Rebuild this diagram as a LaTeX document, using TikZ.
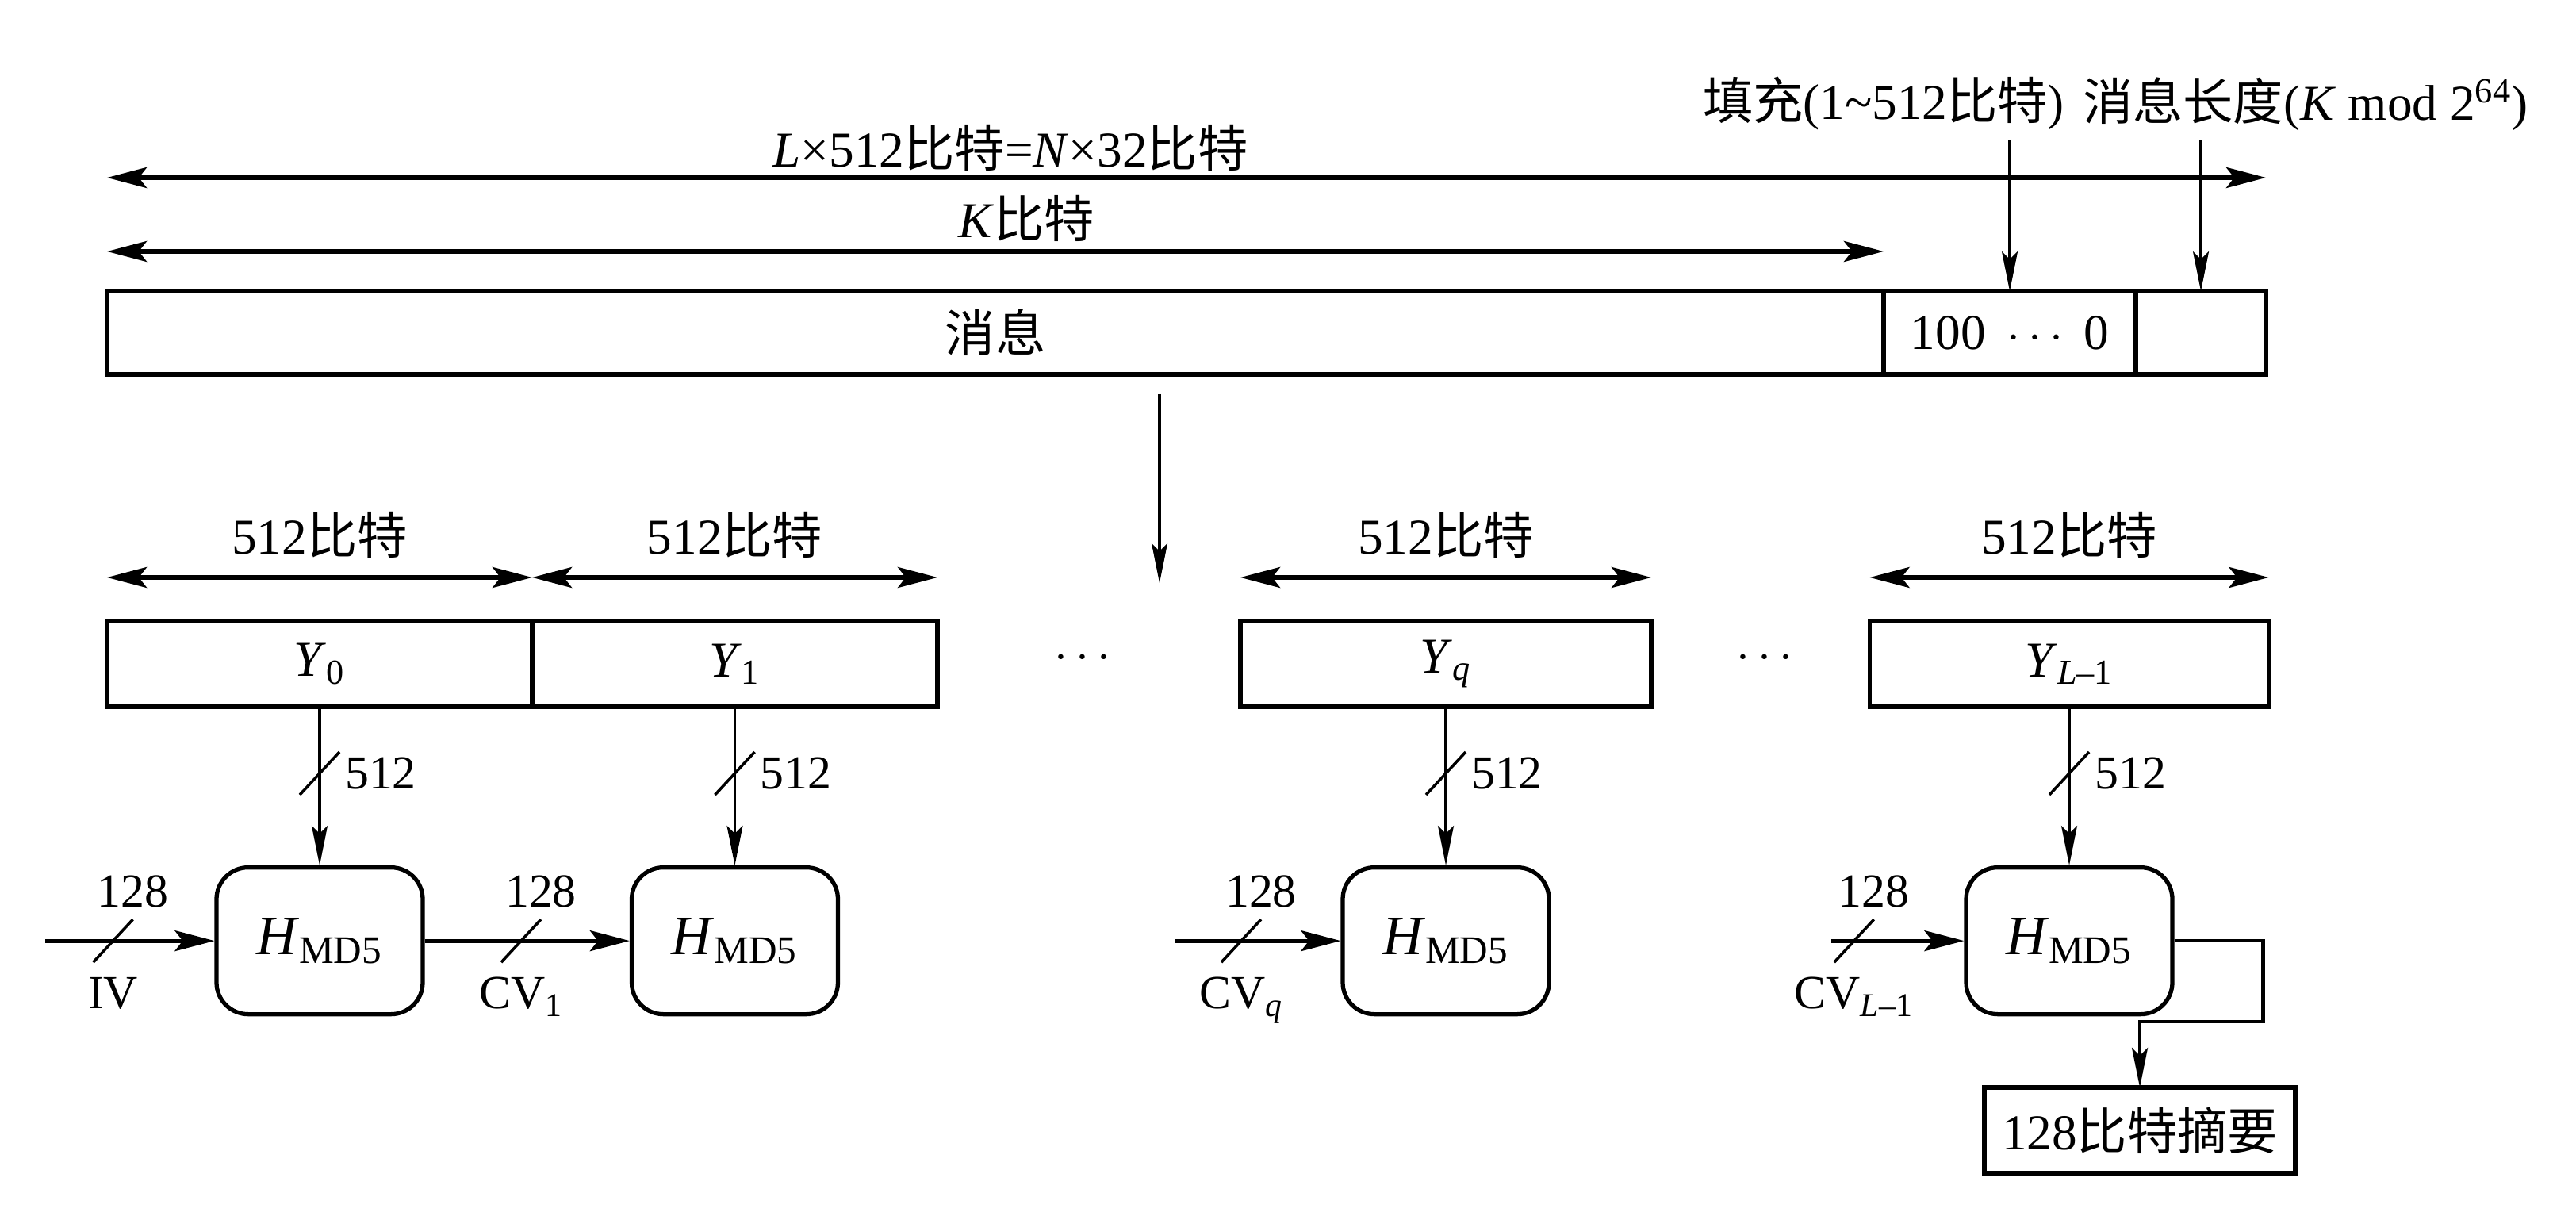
\documentclass[tikz,border=0pt]{standalone}
\usepackage{fontspec}
\setmainfont{Liberation Serif}
\newfontfamily\cjk{Noto Sans CJK SC}
\usetikzlibrary{arrows.meta}
\usetikzlibrary{positioning}
\usetikzlibrary{calc}

\tikzset{
  blk/.style={draw, line width=1.6pt, outer sep=0pt, inner sep=0pt, minimum height=1.08cm, font=\fontsize{18}{22}\selectfont},
  hbox/.style={draw, line width=1.5pt, rounded corners=.4cm, minimum width=2.6cm, minimum height=1.85cm, font=\fontsize{20}{24}\selectfont},
  dim/.style={line width=1.5pt, {Stealth[length=5mm,width=2.6mm,inset=1mm]}-{Stealth[length=5mm,width=2.6mm,inset=1mm]}},
  flow/.style={line width=1.4pt, -{Stealth[length=5mm,width=2.6mm,inset=1mm]}},
  thinflow/.style={line width=1pt, -{Stealth[length=5mm,width=2mm,inset=1mm]}},
  lbl/.style={font=\fontsize{18}{22}\selectfont},
  num/.style={font=\fontsize{17}{20}\selectfont, inner sep=1pt},
}

\begin{document}
\begin{tikzpicture}[y=-1cm]
\useasboundingbox (0,0) rectangle (32.48,15.28);
% message with padding and length
\node[blk, minimum width=22.4cm, minimum height=1.05cm] (msg) at (12.55,4.195) {\cjk 消息};
\node[blk, minimum width=3.18cm, minimum height=1.05cm, right=0pt of msg] (pad) {100 \,$\cdots$\, 0};
\node[blk, minimum width=1.64cm, minimum height=1.05cm, right=0pt of pad] (len) {};
\draw[dim] ([yshift=1.43cm]msg.north west) -- ([yshift=1.43cm]len.north east);
\draw[dim] ([yshift=.5cm]msg.north west) -- ([yshift=.5cm]msg.north east);
\node[lbl] (ltot) at (12.74,1.86) {\textit{L}×512{\cjk 比特}=\textit{N}×32{\cjk 比特}};
\node[lbl] (kbits) at (12.94,2.75) {\textit{K}{\cjk 比特}};
\node[lbl] (padlbl) at (23.75,1.31) {{\cjk 填充}(1\textasciitilde512{\cjk 比特})};
\node[lbl] (lenlbl) at (29.07,1.31) {{\cjk 消息长度}(\textit{K} mod 2\textsuperscript{64})};
\draw[thinflow] (pad.north |- padlbl.south) -- (pad.north);
\draw[thinflow] (len.north |- lenlbl.south) -- (len.north);
\coordinate (cut) at (14.62,4.97);
\coordinate (split) at (14.62,7.35);
\draw[thinflow] (cut) -- (split);

% blocks
\node[blk, minimum width=5.36cm] (y0) at (4.03,8.37) {\textit{Y}\textsubscript{0}};
\node[blk, minimum width=5.11cm, right=0pt of y0] (y1) {\textit{Y}\textsubscript{1}};
\node[blk, minimum width=5.18cm] (yq) at (18.23,8.37) {\textit{Y}\textsubscript{\textit{q}}};
\node[blk, minimum width=5.03cm] (yl) at (26.09,8.37) {\textit{Y}\textsubscript{\textit{L}–1}};
\node[lbl] (dots1) at (13.65,8.3) {$\cdots$};
\node[lbl] (dots2) at (22.25,8.3) {$\cdots$};

% compression stages
\foreach \b in {0,1,q,l} {
 \node[hbox, below=2cm of y\b] (h\b) {\textit{H}\textsubscript{MD5}};
 \draw[dim] ([yshift=.55cm]y\b.north west) -- ([yshift=.55cm]y\b.north east) node[midway, above=1mm, lbl] {512{\cjk 比特}};
 \draw[thinflow] (y\b) -- (h\b) coordinate[pos=.42] (s\b);
 \draw[line width=1pt] ([shift={(-.25,.27)}]s\b) -- ([shift={(.25,-.27)}]s\b);
 \node[num, right=.28cm of s\b] {512};
}

% chaining values
\draw[flow] ([xshift=-2.13cm]h0.west) -- (h0.west) coordinate[pos=.4] (c0);
\draw[flow] (h0) -- (h1) coordinate[pos=.47] (c1);
\draw[flow] ([xshift=-2.09cm]hq.west) -- (hq.west) coordinate[pos=.4] (cq);
\draw[flow] ([xshift=-1.67cm]hl.west) -- (hl.west) coordinate[pos=.17] (cl);
\foreach \c/\t in {0/IV, 1/CV\textsubscript{1}, q/CV\textsubscript{\textit{q}}, l/CV\textsubscript{\textit{L}–1}} {
 \draw[line width=1pt] ([shift={(-.25,.27)}]c\c) -- ([shift={(.25,-.27)}]c\c);
 \node[num, above=.38cm of c\c, xshift=.25cm] {128};
 \node[num, below=.42cm of c\c] {\t};
}

% digest
\node[blk, minimum width=3.92cm] (dig) at (26.98,14.25) {128{\cjk 比特摘要}};
\draw[thinflow, line width=1.3pt] (hl.east) -- ++(1.12,0) |- ([yshift=.83cm]dig.north) -- (dig.north);
\end{tikzpicture}
\end{document}
